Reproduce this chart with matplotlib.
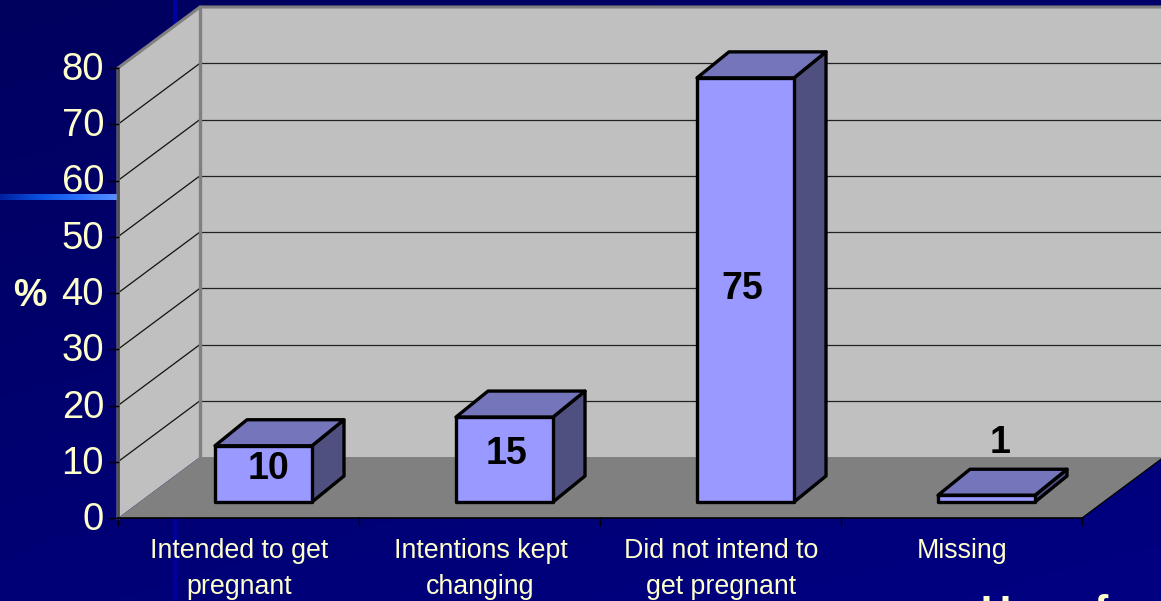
import numpy as np
import matplotlib
matplotlib.use('Agg')
import matplotlib.pyplot as plt
from matplotlib.patches import Polygon

plt.rcParams['font.family'] = ['Liberation Sans', 'DejaVu Sans']

categories = ['Intended to get\npregnant', 'Intentions kept\nchanging',
              'Did not intend to\nget pregnant', 'Missing']
values = [10, 15.1, 75.4, 1.2]
bar_labels = ['10', '15', '75', '1']
y_ticks = [0, 10, 20, 30, 40, 50, 60, 70, 80]

CREAM = '#FFFFCC'
W, H = 1161, 601
# scale of the front plane of the chart, in pixels
PX_CAT = 241.0
PX_VAL = 5.625
X0, Y0 = 118, 518

# depth of the box and of the bars, in data units
WALL_DX, WALL_DY = 82 / PX_CAT, 61 / PX_VAL
BAR_DX, BAR_DY = 32 / PX_CAT, 26 / PX_VAL
BAR_SHIFT, BAR_BASE = 25 / PX_CAT, 16 / PX_VAL
BAR_W = 97 / PX_CAT

fig = plt.figure(figsize=(W / 100, H / 100), dpi=100)
ax = fig.add_axes([0, 0, 1, 1])
xlim = (-X0 / PX_CAT, (W - X0) / PX_CAT)
ylim = ((Y0 - H) / PX_VAL, Y0 / PX_VAL)

# background, darker at the top left
gx, gy = np.meshgrid(np.linspace(0, 1, 100), np.linspace(0, 1, 100))
ax.imshow(0.35 * gx + 0.65 * gy, extent=(*xlim, *ylim), aspect='auto', zorder=0, origin='upper',
          cmap=matplotlib.colors.LinearSegmentedColormap.from_list('bg', ['#00005F', '#000082']))
ax.axvspan((173 - X0) / PX_CAT, (177 - X0) / PX_CAT, color='#0000A0', lw=0, zorder=0.5)
stripe = np.linspace(0, 1, 100).reshape(1, -1)
ax.imshow(stripe, extent=(xlim[0], 0, 56.6, 57.6), aspect='auto', zorder=0.6,
          cmap=matplotlib.colors.LinearSegmentedColormap.from_list('st', ['#0020A0', '#0A50E0', '#2A70FF', '#5A90FF']))

# walls and floor
top = y_ticks[-1]
n = len(categories)
ax.add_patch(Polygon([(WALL_DX, WALL_DY), (n + WALL_DX, WALL_DY), (n + WALL_DX, top + WALL_DY), (WALL_DX, top + WALL_DY)],
                     fc='#C0C0C0', ec='none', zorder=1))
ax.add_patch(Polygon([(0, 0), (WALL_DX, WALL_DY), (WALL_DX, top + WALL_DY), (0, top)],
                     fc='#C0C0C0', ec='none', zorder=1))
ax.add_patch(Polygon([(0, 0), (n, 0), (n + WALL_DX, WALL_DY), (WALL_DX, WALL_DY)],
                     fc='#808080', ec='none', zorder=1))

# gridlines
for v in y_ticks[1:-1]:
    ax.plot([0, WALL_DX], [v, v + WALL_DY], color='#111111', lw=0.9, zorder=2)
    ax.plot([WALL_DX, n + WALL_DX], [v + WALL_DY, v + WALL_DY], color='#222222', lw=0.9, zorder=2)

# frame
ax.plot([0, 0, WALL_DX, n + WALL_DX], [0, top, top + WALL_DY, top + WALL_DY], color='#808080', lw=2.2, zorder=3)
ax.plot([0, 0], [0, top], color='#505050', lw=2, zorder=3)
ax.plot([WALL_DX, WALL_DX], [WALL_DY, top + WALL_DY], color='#808080', lw=2.4, zorder=3)
ax.plot([0, n], [0, 0], color='black', lw=1.2, zorder=3)
ax.plot([n, n + WALL_DX], [0, WALL_DY], color='black', lw=0.9, zorder=3)

# ticks
for v in y_ticks:
    ax.plot([-9 / PX_CAT, 0], [v, v], color='black', lw=1, zorder=3)
    ax.annotate(str(v), (-14 / PX_CAT, v), xytext=(0, 2), textcoords='offset pixels', ha='right',
                va='center_baseline', color=CREAM, fontsize=27.5, zorder=5)
for i in range(n + 1):
    ax.plot([i, i], [0, -7 / PX_VAL], color='black', lw=1, zorder=3)

ax.text(-71 / PX_CAT, 40.2, '%', ha='right', va='center_baseline', color=CREAM, fontsize=27,
        fontweight='bold', zorder=5)

# bars
label_nudge = [(5, 9), (2, 10), (-3, 5), (14, 8)]
for i, v in enumerate(values):
    x0 = i + 0.5 + BAR_SHIFT - BAR_W / 2
    x1 = x0 + BAR_W
    y0 = BAR_BASE
    y1 = BAR_BASE + v
    style = dict(ec='black', lw=2.4, joinstyle='round', zorder=4)
    ax.add_patch(Polygon([(x1, y0), (x1 + BAR_DX, y0 + BAR_DY), (x1 + BAR_DX, y1 + BAR_DY), (x1, y1)], fc='#4F4F80', **style))
    ax.add_patch(Polygon([(x0, y1), (x1, y1), (x1 + BAR_DX, y1 + BAR_DY), (x0 + BAR_DX, y1 + BAR_DY)], fc='#7575BB', **style))
    ax.add_patch(Polygon([(x0, y0), (x1, y0), (x1, y1), (x0, y1)], fc='#9999FF', **style))
    # the small bar has its label above it
    anchor = (y0 + y1) / 2 if v > 5 else y1 + BAR_DY
    ax.annotate(bar_labels[i], ((x0 + x1) / 2, anchor), xytext=label_nudge[i], textcoords='offset pixels',
                ha='center', va='center_baseline' if v > 5 else 'bottom', fontsize=27, fontweight='bold',
                color='black', zorder=6)

# category labels
for i, c in enumerate(categories):
    ax.text(i + 0.5 + 1 / PX_CAT, -20.5 / PX_VAL, c, ha='center', va='top', color=CREAM, fontsize=19.3,
            linespacing=1.5, zorder=5)

# bit of the slide text cut off at the bottom
ax.text((981 - X0) / PX_CAT, (Y0 - 625) / PX_VAL, 'Use of', ha='left', va='baseline', color=CREAM,
        fontsize=30, fontweight='bold', zorder=5)

ax.set_xlim(*xlim)
ax.set_ylim(*ylim)
ax.axis('off')

fig.savefig('out.png', dpi=100)
